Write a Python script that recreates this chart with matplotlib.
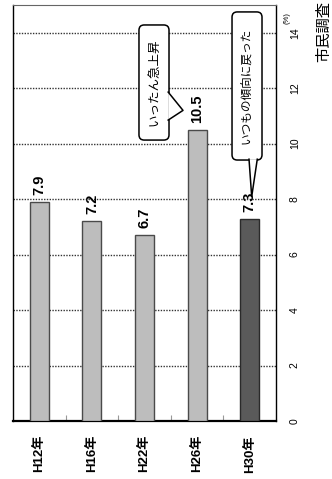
import matplotlib
matplotlib.use("Agg")
import matplotlib.pyplot as plt
from matplotlib.patches import FancyBboxPatch, Polygon
from matplotlib.lines import Line2D

# survey results (%)
years = ["H12年", "H16年", "H22年", "H26年", "H30年"]
values = [7.9, 7.2, 6.7, 10.5, 7.3]
value_ticks = [0, 2, 4, 6, 8, 10, 12, 14]
value_tick_labels = ["0", "2", "4", "6", "8", "10", "12", "14"]
note_jump = "いったん急上昇"
note_back = "いつもの傾向に戻った"
source = "市民調査"

FONT = ["Liberation Sans", "Noto Sans CJK JP"]
JP = ["Noto Sans CJK JP", "DejaVu Sans"]
plt.rcParams["font.family"] = FONT

fig = plt.figure(figsize=(3.32, 4.79), dpi=100)
ax = fig.add_axes([13 / 332, 58 / 479, 263 / 332, 416 / 479])

x = list(range(len(years)))
colors = ["#bdbdbd"] * (len(years) - 1) + ["#5a5a5a"]
edges = ["#4a4a4a"] * (len(years) - 1) + ["#2a2a2a"]
ax.bar(x, values, width=0.36, color=colors, edgecolor=edges, linewidth=1.0, zorder=3)

ax.set_xlim(-0.5, len(years) - 0.5)
ax.set_ylim(0, 15)

# dotted grid
ax.set_yticks(value_ticks)
ax.yaxis.grid(True, linestyle=(0, (1, 1)), color="#333333", linewidth=1.0, zorder=1)
ax.set_axisbelow(True)

# value axis on the right, rotated labels
ax.yaxis.tick_right()
ax.set_yticklabels(value_tick_labels, rotation=90, fontsize=7.5)
ax.tick_params(axis="y", length=0, pad=10)
for lab in ax.get_yticklabels():
    lab.set_ha("left")
    lab.set_va("center")

# category labels
ax.set_xticks(x)
ax.set_xticklabels(years, rotation=90, fontsize=9.5, fontweight="bold", family=FONT)
ax.tick_params(axis="x", length=0, pad=10)
ax.set_xticks([i + 0.5 for i in x[:-1]], minor=True)
ax.tick_params(axis="x", which="minor", direction="in", length=4, color="#999999", width=0.8)

for side in ["left", "right"]:
    ax.spines[side].set_color("black")
    ax.spines[side].set_linewidth(1.0)
ax.spines["top"].set_color("#666666")
ax.spines["top"].set_linewidth(0.8)
ax.spines["bottom"].set_color("black")
ax.spines["bottom"].set_linewidth(1.6)

# value labels
for xi, v in zip(x, values):
    ax.annotate(f"{v:.1f}", (xi, v), xytext=(0, 5), textcoords="offset points",
                rotation=90, ha="center", va="bottom", fontsize=10.5,
                fontweight="bold", zorder=5)

# speech bubbles
aspect = (263 / 5) / (416 / 15)


def bubble(x0, x1, y0, y1, base, tip, text, size):
    box = FancyBboxPatch((x0, y0), x1 - x0, y1 - y0,
                         boxstyle="round,pad=0,rounding_size=0.1",
                         mutation_aspect=aspect, facecolor="white",
                         edgecolor="black", linewidth=1.1, zorder=6)
    ax.add_patch(box)
    (bx0, by0), (bx1, by1) = base
    ax.add_patch(Polygon([(bx0, by0), tip, (bx1, by1)], closed=True,
                         facecolor="white", edgecolor="none", zorder=7))
    ax.add_line(Line2D([bx0, tip[0], bx1], [by0, tip[1], by1],
                       color="black", linewidth=1.1, zorder=8))
    ax.text((x0 + x1) / 2, (y0 + y1) / 2, text, rotation=90, ha="center",
            va="center", fontsize=size, family=JP, zorder=9)


bubble(1.895, 2.466, 10.13, 14.28,
       ((2.45, 11.86), (2.45, 10.85)), (2.732, 11.2), note_jump, 9)
bubble(3.664, 4.234, 9.41, 14.75,
       ((3.987, 9.44), (4.144, 9.44)), (4.038, 8.09), note_back, 8.4)

# unit and source
fig.text(287 / 332, 1 - 18 / 479, "(%)", rotation=90, ha="center", va="center",
         fontsize=5.5)
fig.text(324 / 332, 1 - 31 / 479, source, rotation=90, ha="center", va="center",
         fontsize=11, family=JP)

fig.savefig("out.png", dpi=100)
